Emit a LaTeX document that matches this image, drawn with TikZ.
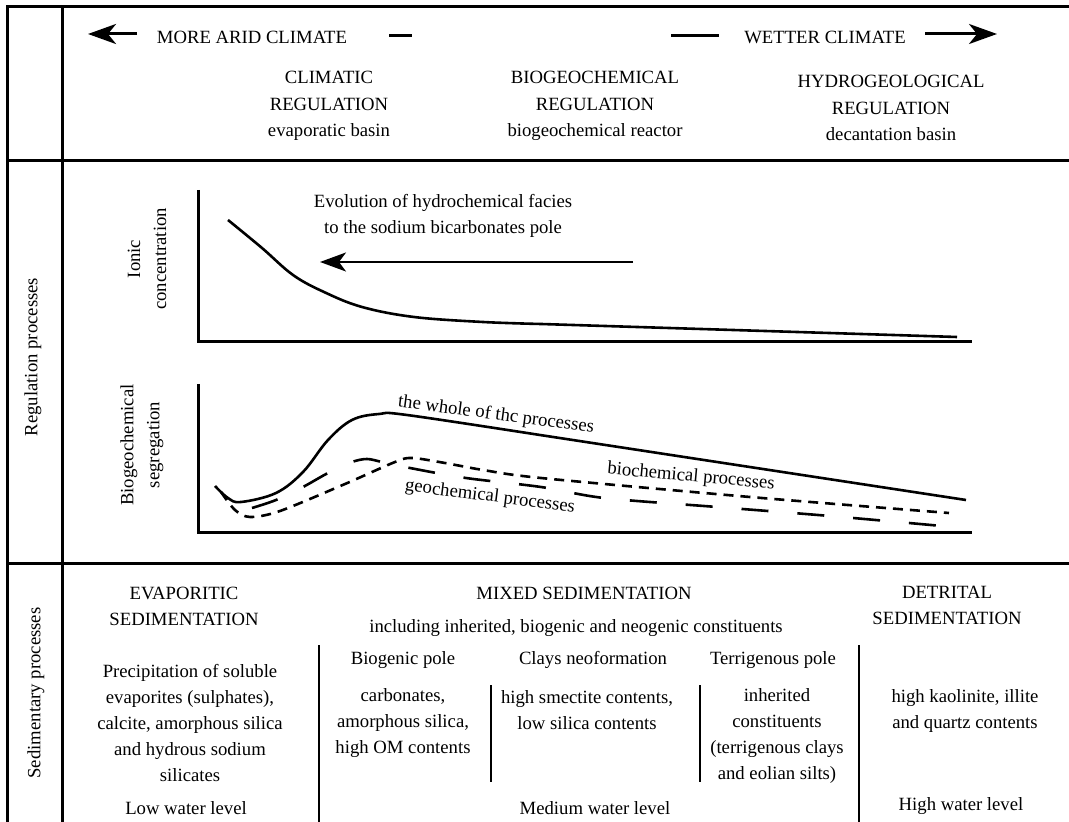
\documentclass[tikz,border=0pt]{standalone}
\usepackage{fontspec}
\setmainfont{Liberation Serif}
\usetikzlibrary{arrows.meta}
\begin{document}
\begin{tikzpicture}[x=0.5pt,y=-0.5pt,
  frame/.style={line width=1.5pt},
  sepline/.style={line width=1pt},
  axis/.style={line width=1.5pt},
  curve/.style={line width=1.3pt},
  txt/.style={font=\fontsize{9.35}{13}\selectfont, align=center, inner sep=0pt},
  bigarrow/.style={line width=1.5pt, -{Stealth[length=14pt,width=10pt,inset=4pt]}},
  evoarrow/.style={line width=1pt, -{Stealth[length=13pt,width=9.5pt,inset=3.5pt]}}]
\useasboundingbox (0,0) rectangle (1069,822);
% frame
\draw[frame] (1069,7) -- (7,7) -- (7,822);
\draw[frame] (62,7) -- (62,822);
\draw[frame] (7,161) -- (1069,161);
\draw[frame] (7,563) -- (1069,563);

% ---- top section ----
\coordinate (la1) at (137,34); \coordinate (la2) at (88,34);
\draw[bigarrow] (la1) -- (la2);
\node[txt] (arid) at (252,37) {MORE ARID CLIMATE};
\coordinate (d1a) at (389,36); \coordinate (d1b) at (412,36);
\draw[frame] (d1a) -- (d1b);
\coordinate (d2a) at (671,36); \coordinate (d2b) at (719,36);
\draw[frame] (d2a) -- (d2b);
\node[txt] (wet) at (825,37) {WETTER CLIMATE};
\coordinate (ra1) at (925,34); \coordinate (ra2) at (997,34);
\draw[bigarrow] (ra1) -- (ra2);

\node[txt, font=\fontsize{9.35}{13.25}\selectfont] (clim) at (329,106) {CLIMATIC\\REGULATION\\evaporatic basin};
\node[txt, font=\fontsize{9.35}{13.25}\selectfont] (biog) at (595,106) {BIOGEOCHEMICAL\\REGULATION\\biogeochemical reactor};
\node[txt, font=\fontsize{9.35}{13.25}\selectfont] (hydr) at (891,108) {HYDROGEOLOGICAL\\REGULATION\\decantation basin};

% ---- middle section ----
\node[txt, rotate=90] (regp) at (33,357) {Regulation processes};

% graph 1
\coordinate (g1top) at (198,190); \coordinate (g1o) at (198,342); \coordinate (g1r) at (972,342);
\draw[axis] (g1top) -- (g1o) -- (g1r);
\node[txt, rotate=90] (ionic) at (147,259) {Ionic\\concentration};
\draw[curve] plot[smooth, tension=0.6] coordinates {(228,220) (262,248) (293,275) (324,292) (362,307) (414,317) (483,322) (541,324)} -- (957,337);
\node[txt] (evo) at (443,216) {Evolution of hydrochemical facies\\to the sodium bicarbonates pole};
\coordinate (ea1) at (633,262); \coordinate (ea2) at (320,262);
\draw[evoarrow] (ea1) -- (ea2);

% graph 2
\coordinate (g2top) at (198,384); \coordinate (g2o) at (198,533); \coordinate (g2r) at (972,533);
\draw[axis] (g2top) -- (g2o) -- (g2r);
\node[txt, rotate=90] (bgs) at (142,445) {Biogeochemical\\segregation};
\draw[curve] plot[smooth, tension=0.6] coordinates {(215,486) (228,498) (241,502) (276,493) (303,472) (328,440) (352,420) (379,414) (407,415) (540,435)} -- (966,500);
\draw[curve, dash pattern=on 5pt off 3.5pt] plot[smooth, tension=0.5] coordinates {(221,492) (235,510) (250,517) (280,511) (345,484) (395,462) (412,458) (445,463) (483,470) (541,478) (750,497) (949,513)};
\draw[curve, dash pattern=on 13.5pt off 14.5pt] plot[smooth, tension=0.5] coordinates {(252,508) (276,500) (303,487) (328,473) (352,462) (367,459) (382,462) (410,468) (466,478) (541,487) (604,498) (717,507) (830,516) (942,526)};
\node[txt, rotate=-7.4] (whole) at (496,415) {the whole of thc processes};
\node[txt, rotate=-5.2] (bioch) at (691,477) {biochemical processes};
\node[txt, rotate=-7.2] (geoch) at (490,497) {geochemical processes};

% ---- bottom section ----
\node[txt, rotate=90] (sedp) at (36,693) {Sedimentary processes};

\node[txt] (evt) at (184,606) {EVAPORITIC\\SEDIMENTATION};
\node[txt] (evb) at (190,723) {Precipitation of soluble\\evaporites (sulphates),\\calcite, amorphous silica\\and hydrous sodium\\silicates};
\node[txt] (low) at (186,808) {Low water level};

\node[txt] (mixt) at (584,593) {MIXED SEDIMENTATION};
\node[txt] (incl) at (576,628) {including inherited, biogenic and neogenic constituents};
\node[txt] (biop) at (403,660) {Biogenic pole};
\node[txt] (biob) at (403,723) {carbonates,\\amorphous silica,\\high OM contents};
\node[txt] (clay) at (593,660) {Clays neoformation};
\node[txt] (clayb) at (587,710) {high smectite contents,\\low silica contents};
\node[txt] (terp) at (773,660) {Terrigenous pole};
\node[txt] (terb) at (777,736) {inherited\\constituents\\(terrigenous clays\\and eolian silts)};
\node[txt] (med) at (595,808) {Medium water level};

\node[txt] (dett) at (947,605) {DETRITAL\\SEDIMENTATION};
\node[txt] (detb) at (965,711) {high kaolinite, illite\\and quartz contents};
\node[txt] (high) at (961,806) {High water level};

\coordinate (v1a) at (319,645); \coordinate (v1b) at (319,822);
\coordinate (v2a) at (491,685); \coordinate (v2b) at (491,782);
\coordinate (v3a) at (700,685); \coordinate (v3b) at (700,782);
\coordinate (v4a) at (859,645); \coordinate (v4b) at (859,822);
\draw[sepline] (v1a) -- (v1b);
\draw[sepline] (v2a) -- (v2b);
\draw[sepline] (v3a) -- (v3b);
\draw[sepline] (v4a) -- (v4b);
\end{tikzpicture}
\end{document}
